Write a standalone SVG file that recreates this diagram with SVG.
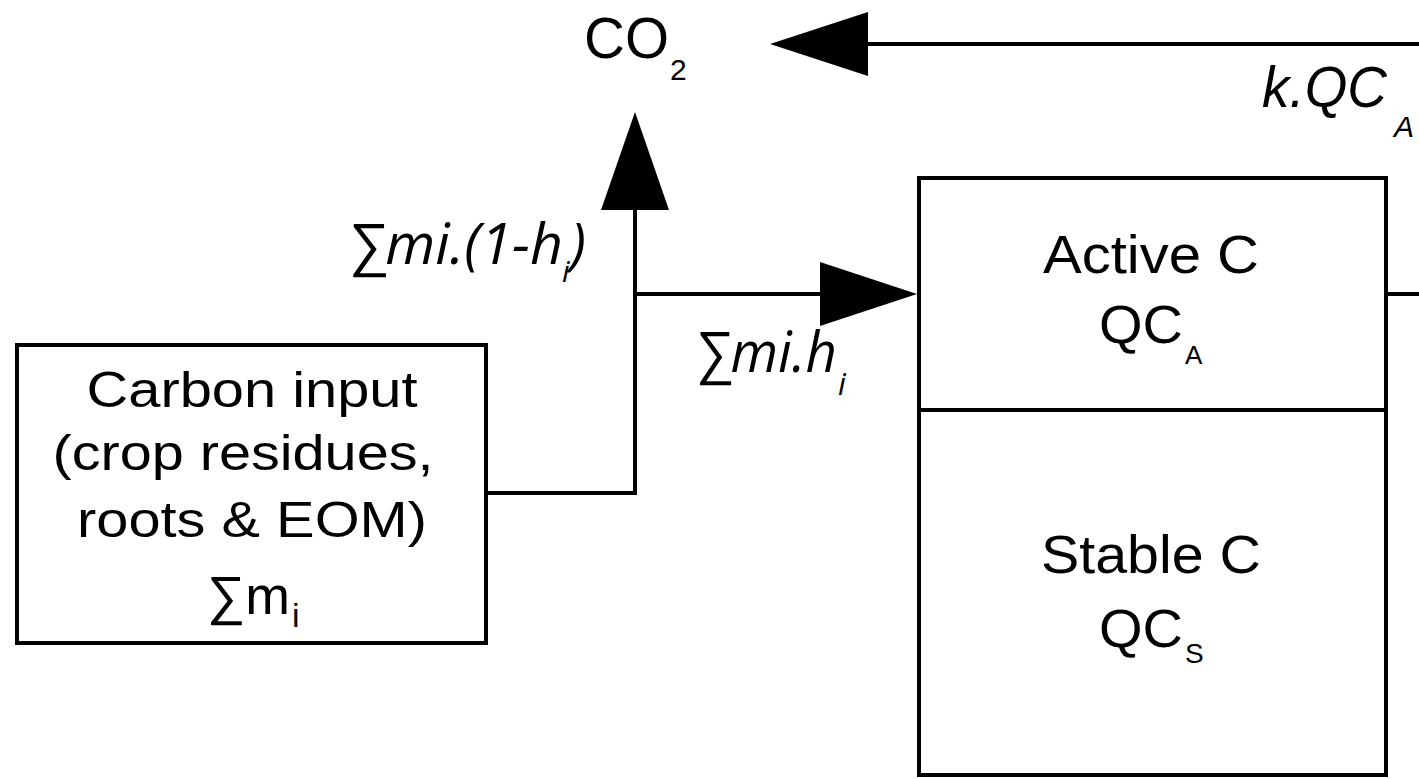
<svg xmlns="http://www.w3.org/2000/svg" width="1419" height="779" viewBox="0 0 1419 779">
<style>
.box{fill:#fff;stroke:#000;stroke-width:4}
.ln{fill:none;stroke:#000;stroke-width:4}
.ah{fill:#000}
.t{font-family:"Liberation Sans",Arial,sans-serif;fill:#000}
.it{font-family:"Open Sans","Liberation Sans",sans-serif;font-style:italic;fill:#000}
</style>
<rect width="1419" height="779" fill="#fff"/>
<g id="connectors">
<line class="ln" x1="1419" y1="44" x2="860" y2="44"/>
<polygon class="ah" points="770,44 868,12 868,76"/>
<polyline class="ln" points="486,493 635,493 635,200"/>
<polygon class="ah" points="635,112 601,210 669,210"/>
<line class="ln" x1="635" y1="294" x2="830" y2="294"/>
<polygon class="ah" points="917,294 820,262 820,326"/>
<line class="ln" x1="1386" y1="294" x2="1419" y2="294"/>
</g>
<g id="co2">
<text class="t" x="584" y="58" font-size="58" textLength="85" lengthAdjust="spacingAndGlyphs">CO</text>
<text class="t" x="670" y="80" font-size="30">2</text>
</g>
<g id="label-kqca">
<text class="t" x="1262" y="107" font-size="57" font-style="italic" textLength="125" lengthAdjust="spacingAndGlyphs">k.QC</text>
<text class="t" x="1394" y="137" font-size="30" font-style="italic">A</text>
</g>
<g id="label-resp">
<text class="it" x="348" y="264" font-size="56" textLength="215" lengthAdjust="spacingAndGlyphs">∑mi.(1-h</text>
<text class="it" x="562" y="282" font-size="30">i</text>
<text class="it" x="570" y="264" font-size="56">)</text>
</g>
<g id="label-hum">
<text class="it" x="695" y="372" font-size="56" textLength="142" lengthAdjust="spacingAndGlyphs">∑mi.h</text>
<text class="it" x="838" y="395" font-size="31">i</text>
</g>
<g id="carbon-input">
<rect class="box" x="17" y="345" width="469" height="298"/>
<text class="t" x="252" y="407" font-size="50" text-anchor="middle" textLength="331" lengthAdjust="spacingAndGlyphs">Carbon input</text>
<text class="t" x="243" y="470" font-size="50" text-anchor="middle" textLength="381" lengthAdjust="spacingAndGlyphs">(crop residues,</text>
<text class="t" x="252" y="537" font-size="50" text-anchor="middle" textLength="350" lengthAdjust="spacingAndGlyphs">roots &amp; EOM)</text>
<text class="t" x="207" y="614" font-size="54" textLength="83" lengthAdjust="spacingAndGlyphs">∑m</text>
<text class="t" x="292" y="627" font-size="34">i</text>
</g>
<g id="soil-c">
<rect class="box" x="919" y="178" width="467" height="597"/>
<line class="ln" x1="919" y1="410" x2="1386" y2="410"/>
<text class="t" x="1151" y="273" font-size="53" text-anchor="middle" textLength="216" lengthAdjust="spacingAndGlyphs">Active C</text>
<text class="t" x="1099" y="343" font-size="54" textLength="84" lengthAdjust="spacingAndGlyphs">QC</text>
<text class="t" x="1185" y="364" font-size="26">A</text>
<text class="t" x="1151" y="573" font-size="54" text-anchor="middle" textLength="220" lengthAdjust="spacingAndGlyphs">Stable C</text>
<text class="t" x="1099" y="647" font-size="54" textLength="84" lengthAdjust="spacingAndGlyphs">QC</text>
<text class="t" x="1185" y="663" font-size="28">S</text>
</g>
</svg>
